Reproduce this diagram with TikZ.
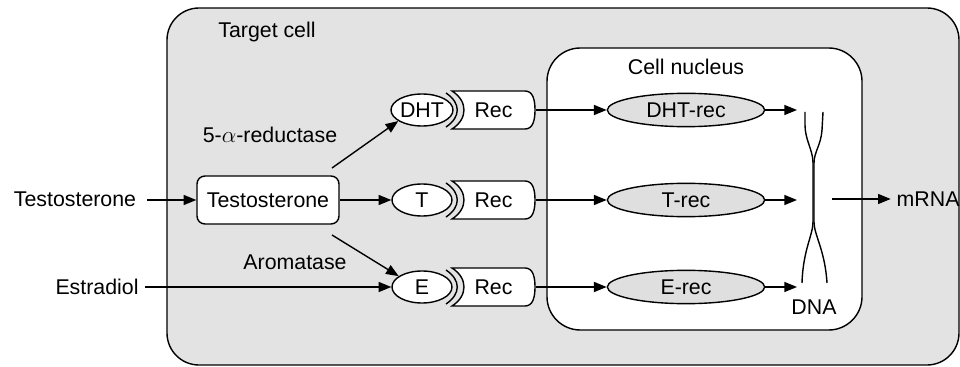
\documentclass[tikz,border=0pt]{standalone}
\usepackage{fontspec}
\setmainfont{Liberation Sans}
\usetikzlibrary{arrows.meta,shapes.geometric}
\definecolor{cellgray}{HTML}{E3E3E3}
\definecolor{recgray}{HTML}{DFDFDF}
\newcommand\recbox[2]{%
  \draw (446,#2-17) .. controls (461,#2-7) and (461,#2+7) .. (446,#2+17);
  \draw[fill=white] (452,#2-19) -- (525,#2-19)
    .. controls (533,#2-19) and (535,#2-10) .. (535,#2)
    .. controls (535,#2+10) and (533,#2+19) .. (525,#2+19)
    -- (452,#2+19)
    .. controls (468,#2+9) and (468,#2-9) .. (452,#2-19) -- cycle;
  \node[minimum width=62.25pt, minimum height=28.5pt, inner sep=0pt] (#1) at (493.5,#2) {Rec};
}
\begin{document}
\begin{tikzpicture}[x=0.75pt,y=-0.75pt, line width=1.05pt,
  font=\fontsize{16}{19}\selectfont,
  arr/.style={-{Triangle[length=9.5pt,width=7.5pt]}},
  hormone/.style={ellipse, draw, fill=white, minimum width=45pt, minimum height=24pt, inner sep=0pt},
  nucrec/.style={ellipse, draw, fill=recgray, minimum width=118pt, minimum height=25pt, inner sep=0pt},
  lbl/.style={inner sep=0pt}
]
\useasboundingbox (0,0) rectangle (960,367);
% cell and nucleus
\draw[fill=cellgray, rounded corners=24pt] (167,8) rectangle (959,365);
\draw[fill=white, rounded corners=25pt] (547,48) rectangle (862,330);
\node[lbl] (tc) at (267,32) {Target cell};
\node[lbl] (cn) at (686,67) {Cell nucleus};

% left side
\node[lbl] (tout) at (75,199) {Testosterone};
\node[lbl] (eout) at (97,287) {Estradiol};
\coordinate (t0) at (147,200);
\coordinate (e0) at (145,287);
\node[draw, fill=white, rounded corners=6pt, minimum width=106.5pt, minimum height=36pt, inner sep=0pt] (tbox) at (268,200) {Testosterone};
\node[lbl] (red) at (270,135) {5-$\alpha$-reductase};
\node[lbl] (aro) at (295,262) {Aromatase};
\coordinate (r1) at (332,168);
\coordinate (a1) at (332,235);

% hormones and receptors
\recbox{rec1}{110}
\recbox{rec2}{200}
\recbox{rec3}{287}
\node[hormone] (dht) at (422,110) {DHT};
\node[hormone] (t) at (422,200) {T};
\node[hormone] (e) at (422,287) {E};

\draw[arr] (t0) -- (tbox.west);
\draw[arr] (tbox.east) -- (t.west);
\draw[arr] (r1) -- (dht.205);
\draw[arr] (a1) -- (e.155);
\draw[arr] (e0) -- (e.west);

% nucleus receptors
\node[nucrec] (dhtrec) at (686,110) {DHT-rec};
\node[nucrec] (trec) at (686,200) {T-rec};
\node[nucrec] (erec) at (686,287) {E-rec};
\draw[arr] (rec1.east) -- (dhtrec.west);
\draw[arr] (rec2.east) -- (trec.west);
\draw[arr] (rec3.east) -- (erec.west);
\coordinate (d1) at (797,110);
\coordinate (d2) at (797,200);
\coordinate (d3) at (797,287);
\draw[arr] (dhtrec.east) -- (d1);
\draw[arr] (trec.east) -- (d2);
\draw[arr] (erec.east) -- (d3);

% DNA
\draw (805,112) -- (805,125) .. controls (805,140) and (813,150) .. (813,163) -- (813,222)
      .. controls (813,235) and (803,250) .. (802,283);
\draw (823,112) -- (822,130) .. controls (821,145) and (814,152) .. (814,163) -- (814,222)
      .. controls (814,235) and (825,250) .. (827,283);
\node[lbl] (dna) at (814,307) {DNA};
\coordinate (m0) at (832,199);
\node[lbl, anchor=west] (mrna) at (896,199) {mRNA};
\draw[arr] (m0) -- ([xshift=-4pt]mrna.west);
\end{tikzpicture}
\end{document}
